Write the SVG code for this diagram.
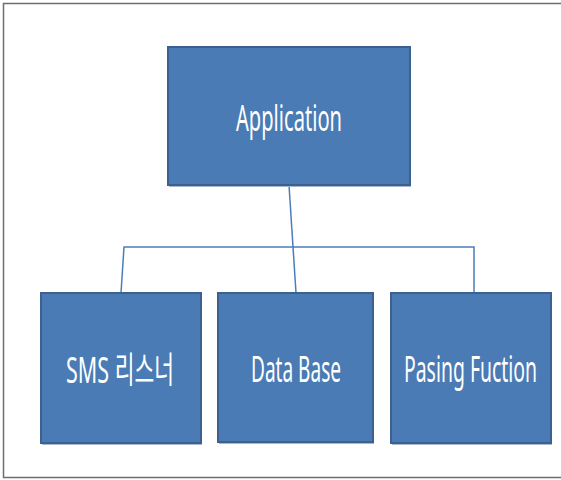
<svg xmlns="http://www.w3.org/2000/svg" width="561" height="480" viewBox="0 0 561 480">
<style>
.box{fill:#4a7bb5;stroke:#3a6190;stroke-width:2}
.sh{fill:#a9b8cc}
.lbl{fill:#ffffff;font-family:"Noto Sans","Noto Sans CJK KR",sans-serif;font-size:36px;text-anchor:middle}
.conn{fill:none;stroke:#4a7ebb;stroke-width:1.5}
</style>
<rect x="0" y="0" width="561" height="480" fill="#ffffff"/>
<path d="M561,3.5 H3.5 V477.5 H561" fill="none" stroke="#6e6e6e" stroke-width="1.5"/>
<g id="connectors">
<line class="conn" x1="289" y1="185" x2="296" y2="293"/>
<polyline class="conn" points="121,293 124,247 474,247 474,293"/>
</g>
<g id="application">
<rect class="sh" x="169" y="49" width="242" height="138"/>
<rect class="box" x="168" y="47" width="242" height="138"/>
<text class="lbl" x="289" y="131" textLength="106" lengthAdjust="spacingAndGlyphs">Application</text>
</g>
<g id="sms">
<rect class="sh" x="42" y="295" width="160" height="150"/>
<rect class="box" x="41" y="293" width="160" height="150"/>
<text class="lbl" x="120" y="383" textLength="108" lengthAdjust="spacingAndGlyphs">SMS 리스너</text>
</g>
<g id="database">
<rect class="sh" x="219" y="295" width="155" height="149"/>
<rect class="box" x="218" y="293" width="155" height="149"/>
<text class="lbl" x="296" y="382" textLength="90" lengthAdjust="spacingAndGlyphs">Data Base</text>
</g>
<g id="parsing">
<rect class="sh" x="392" y="295" width="160" height="150"/>
<rect class="box" x="391" y="293" width="160" height="150"/>
<text class="lbl" x="470.5" y="382" textLength="133" lengthAdjust="spacingAndGlyphs">Pasing Fuction</text>
</g>
</svg>
